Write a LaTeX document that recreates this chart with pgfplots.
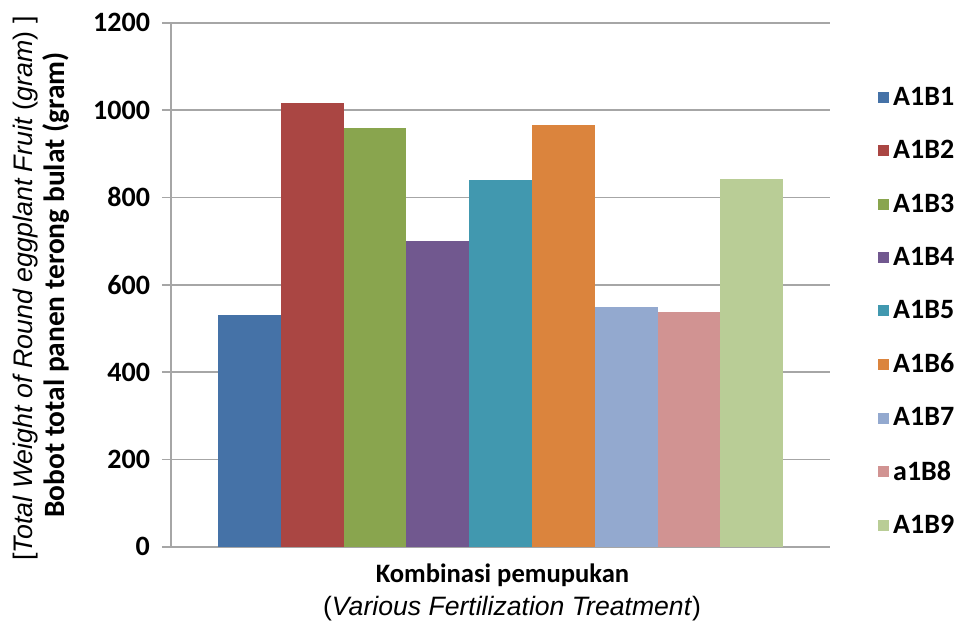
\documentclass[border=0pt]{standalone}
\usepackage{fontspec}
\setmainfont{Carlito}
\newfontfamily\arialfont{Liberation Sans}
\usepackage{pgfplots}
\pgfplotsset{compat=1.18}
\definecolor{c1}{HTML}{4572A7}
\definecolor{c2}{HTML}{AA4643}
\definecolor{c3}{HTML}{89A54E}
\definecolor{c4}{HTML}{71588F}
\definecolor{c5}{HTML}{4198AF}
\definecolor{c6}{HTML}{DB843D}
\definecolor{c7}{HTML}{93A9CF}
\definecolor{c8}{HTML}{D19392}
\definecolor{c9}{HTML}{B9CD96}
\definecolor{gridgray}{HTML}{A6A6A6}
\begin{document}
\begin{tikzpicture}
\useasboundingbox (0,0) rectangle (479.5pt,311.5pt);
\begin{axis}[
  at={(85.5pt,38.15pt)}, anchor=south west,
  scale only axis, width=329.5pt, height=262pt,
  clip=false,
  ybar=0pt, bar width=31.4pt,
  xmin=-1, xmax=1, xtick=\empty,
  ymin=0, ymax=1200, ytick={0,200,...,1200},
  axis x line=bottom, axis y line=left,
  axis line style={gridgray, line width=0.8pt, -},
  ymajorgrids, grid style={gridgray, line width=0.8pt},
  major tick length=4.5pt, tick align=outside,
  tick style={gridgray, line width=0.8pt},
  /pgf/number format/assume math mode=true,
  /pgf/number format/1000 sep={},
  yticklabel style={font=\fontsize{14}{16}\selectfont\bfseries, xshift=-2.5pt},
  ylabel={\bfseries Bobot total panen terong bulat (gram)},
  ylabel style={at={(axis description cs:-0.1745,0.4994)}, anchor=center, font=\fontsize{14.7}{17}\selectfont},
  xlabel={\bfseries Kombinasi pemupukan},
  xlabel style={at={(axis description cs:0.503,-0.054)}, anchor=center, font=\fontsize{13.3}{16}\selectfont},
  legend style={at={(axis description cs:1.0725,0.8855)}, anchor=north west, draw=none, fill=none,
    font=\fontsize{14}{16}\selectfont\bfseries, row sep=12pt, inner sep=0pt,
    legend cell align=left},
  legend image code/.code={\fill[#1] (-3pt,-2.75pt) rectangle (2.5pt,2.75pt);},
  every axis plot/.append style={draw=none},
]
\addplot[fill=c1] coordinates {(0,530)};
\addplot[fill=c2] coordinates {(0,1017)};
\addplot[fill=c3] coordinates {(0,959)};
\addplot[fill=c4] coordinates {(0,701)};
\addplot[fill=c5] coordinates {(0,840)};
\addplot[fill=c6] coordinates {(0,966)};
\addplot[fill=c7] coordinates {(0,549)};
\addplot[fill=c8] coordinates {(0,537)};
\addplot[fill=c9] coordinates {(0,843)};
\legend{A1B1,A1B2,A1B3,A1B4,A1B5,A1B6,A1B7,a1B8,A1B9}
\node[rotate=90, anchor=center, font=\arialfont\fontsize{13.4}{15}\selectfont] at (axis description cs:-0.22,0.4927)
  {[\textit{Total Weight of Round eggplant Fruit} (\textit{gram}) ]};
\node[anchor=center, font=\arialfont\fontsize{13.3}{15}\selectfont] at (axis description cs:0.5175,-0.1174)
  {(\textit{Various Fertilization Treatment})};
\end{axis}
\end{tikzpicture}
\end{document}
